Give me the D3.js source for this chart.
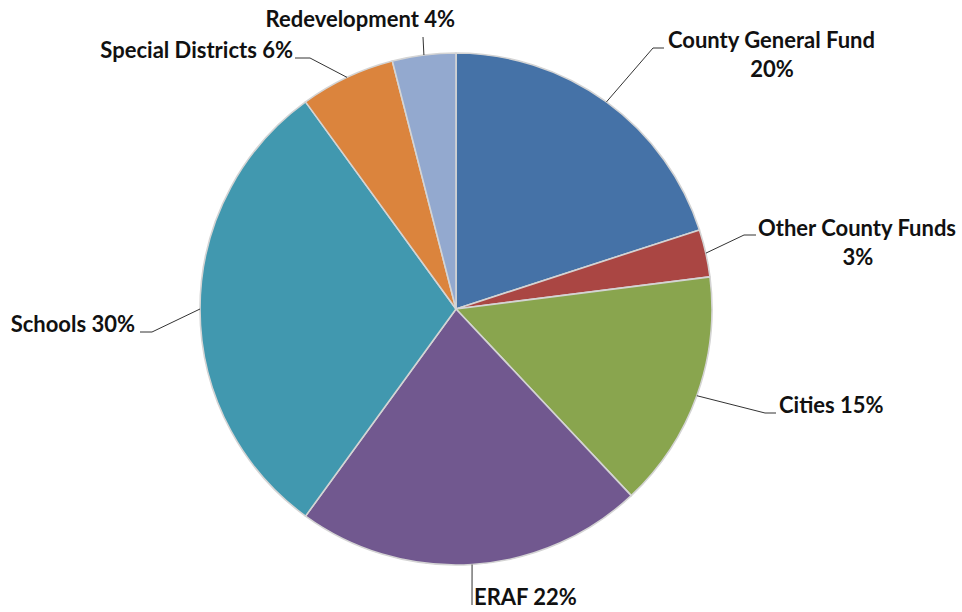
<!DOCTYPE html>
<html>
<head>
<meta charset="utf-8">
<script src="https://cdn.jsdelivr.net/npm/d3@7"></script>
<style>
  html, body { margin: 0; padding: 0; background: #fff; }
  svg { display: block; }
  .lbl { font-family: Lato, "Open Sans", sans-serif; font-weight: 700; font-size: 22px; fill: #111; }
</style>
</head>
<body>
<svg id="chart" width="962" height="612"></svg>
<script>
// Distribution of property tax revenue (percent)
const categories = ["County General Fund", "Other County Funds", "Cities", "ERAF", "Schools", "Special Districts", "Redevelopment"];
const shares = [20, 3, 15, 22, 30, 6, 4];
const colors = ["#4572A7", "#AA4643", "#89A54E", "#71588F", "#4198AF", "#DB843D", "#93A9CF"];

// Label layout: elbow point of the leader line, end of its short tail, text anchor point, alignment
const labelLayout = [
  { elbow: [653, 48],  tail: [664, 48],  text: [668, 48],  anchor: "start", twoLine: true, center: 772 },
  { elbow: [744, 235], tail: [756, 235], text: [758, 236], anchor: "start", twoLine: true, center: 858 },
  { elbow: [765, 413], tail: [776, 413], text: [779, 413], anchor: "start" },
  { elbow: [472, 605], tail: [472, 605], text: [474, 605], anchor: "start" },
  { elbow: [152, 332], tail: [140, 332], text: [135, 332], anchor: "end" },
  { elbow: [310, 58],  tail: [295, 58],  text: [293, 58],  anchor: "end" },
  { elbow: [423, 37],  tail: [423, 37],  text: [455, 27],  anchor: "end" }
];

const svg = d3.select("#chart");
const cx = 456, cy = 309, radius = 256;

const data = categories.map((c, i) => ({ name: c, value: shares[i], color: colors[i], layout: labelLayout[i] }));

const pie = d3.pie().value(d => d.value).sort(null);
const arc = d3.arc().innerRadius(0).outerRadius(radius);
const arcs = pie(data);

const g = svg.append("g").attr("transform", `translate(${cx},${cy})`);

g.selectAll("path.slice")
  .data(arcs)
  .join("path")
  .attr("class", "slice")
  .attr("d", arc)
  .attr("fill", d => d.data.color)
  .attr("stroke", "#d4d4d4")
  .attr("stroke-width", 1.6)
  .attr("stroke-linejoin", "round");

// Leader lines start on the rim at each slice's mid-angle
arcs.forEach(a => {
  const mid = (a.startAngle + a.endAngle) / 2;
  const sx = cx + radius * Math.sin(mid);
  const sy = cy - radius * Math.cos(mid);
  const L = a.data.layout;
  svg.append("polyline")
    .attr("points", [[sx, sy], L.elbow, L.tail].map(p => p.join(",")).join(" "))
    .attr("fill", "none")
    .attr("stroke", "#333")
    .attr("stroke-width", 1);

  const pct = a.data.value + "%";
  if (L.twoLine) {
    svg.append("text").attr("class", "lbl")
      .attr("x", L.text[0]).attr("y", L.text[1])
      .attr("text-anchor", "start").text(a.data.name);
    svg.append("text").attr("class", "lbl")
      .attr("x", L.center).attr("y", L.text[1] + 29)
      .attr("text-anchor", "middle").text(pct);
  } else {
    svg.append("text").attr("class", "lbl")
      .attr("x", L.text[0]).attr("y", L.text[1])
      .attr("text-anchor", L.anchor)
      .text(a.data.name + " " + pct);
  }
});
</script>
</body>
</html>
